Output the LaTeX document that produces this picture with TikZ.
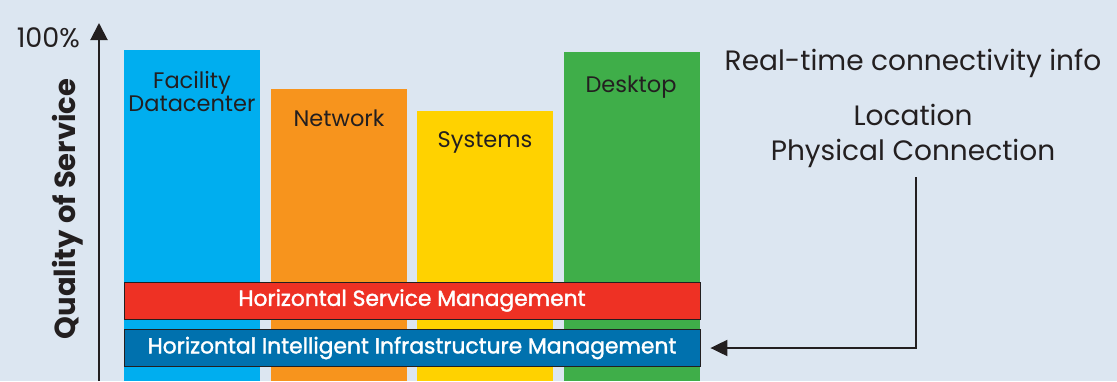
\documentclass[tikz,border=0pt]{standalone}
\usepackage{fontspec}
\setmainfont{Poppins}
\newfontfamily\medfont[FakeBold=1.6]{Poppins}
\usetikzlibrary{arrows.meta}
\definecolor{bg}{HTML}{DCE6F1}
\definecolor{txt}{HTML}{231F20}
\definecolor{cblue}{HTML}{00AEEF}
\definecolor{corange}{HTML}{F7941D}
\definecolor{cyellow}{HTML}{FFD200}
\definecolor{cgreen}{HTML}{3FAE49}
\definecolor{cred}{HTML}{EE3124}
\definecolor{cdblue}{HTML}{0071AE}
\begin{document}
\begin{tikzpicture}[x=1pt,y=-1pt,
  bartext/.style={inner sep=0pt,anchor=base,text=txt,font=\fontsize{22.5}{23}\selectfont},
  sidetext/.style={inner sep=0pt,anchor=base,text=txt,font=\fontsize{28}{29}\selectfont},
  band/.style={draw=txt,line width=0.8pt,minimum width=576pt,minimum height=37pt,inner sep=0pt,
    text=white,font=\medfont\fontsize{21.8}{22}\selectfont},
  conn/.style={draw=txt,line width=2pt}]
\fill[bg] (0,0) rectangle (1117,381);
\useasboundingbox (0,0) rectangle (1117,381);
% bars
\fill[cblue]   (124,50)  rectangle (260,381);
\fill[corange] (271,89)  rectangle (407,381);
\fill[cyellow] (417,111) rectangle (553,381);
\fill[cgreen]  (564,52)  rectangle (700,381);
% bar labels
\node[bartext] (fac) at (192,88) {Facility};
\node[bartext] (dc)  at (192,111) {Datacenter};
\node[bartext] (net) at (339,126) {Network};
\node[bartext] (sys) at (485,147) {Systems};
\node[bartext] (desk) at (631,92) {Desktop};
% bands
\node[band,fill=cred]  (hsm)  at (412,300.5) {Horizontal Service Management};
\node[band,fill=cdblue] (hiim) at (412,348) {Horizontal Intelligent Infrastructure Management};
% axis
\coordinate (ybot) at (99,381);
\coordinate (ytop) at (99,23);
\draw[conn,-{Triangle[length=17pt,width=17pt]}] (ybot) -- (ytop);
\node[inner sep=0pt,anchor=base east,text=txt,font=\fontsize{27}{28}\selectfont] (pct) at (80,47) {100\%};
\node[inner sep=0pt,rotate=90,text=txt,font=\bfseries\fontsize{29}{30}\selectfont] (qos) at (68,209) {Quality of Service};
% right texts
\node[sidetext] (rt)  at (913,70)  {Real-time connectivity info};
\node[sidetext] (loc) at (913,125) {Location};
\node[sidetext] (phys) at (913,160) {Physical Connection};
\coordinate (cstart) at (916,177);
\draw[conn,-{Triangle[length=17pt,width=16pt]},shorten >=10pt] (cstart) |- (hiim.east);
\end{tikzpicture}
\end{document}
